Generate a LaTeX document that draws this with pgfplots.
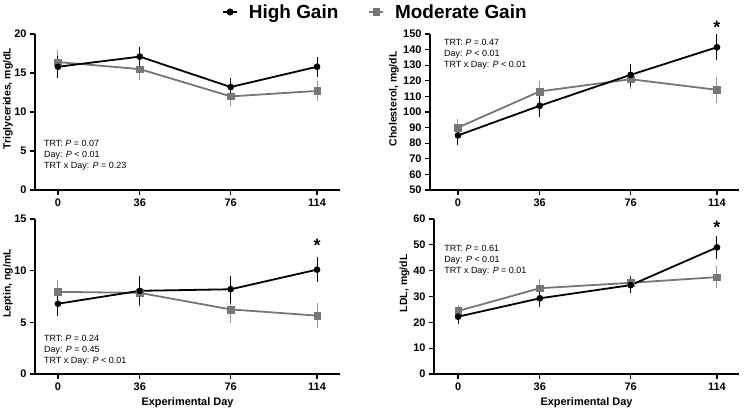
\documentclass[border=0pt]{standalone}
\usepackage{pgfplots}
\pgfplotsset{compat=1.18}
\usepackage{fontspec}
\setmainfont{Liberation Sans}

\definecolor{mgc}{RGB}{118,118,118}
\definecolor{mgerr}{RGB}{150,150,150}

\pgfplotsset{
  panel/.style={
    scale only axis, width=305bp, height=156bp,
    axis x line=bottom, axis y line=left,
    axis line style={-, line width=1.6bp, black},
    tick align=outside, major tick length=5bp,
    tick style={line width=1.3bp, black},
    xtick={0,36,76,114}, xmin=-10.1, xmax=124.1,
    ticklabel style={font=\bfseries\fontsize{11}{12}\selectfont},
    /pgf/number format/assume math mode=true,
    xlabel style={font=\bfseries\fontsize{11}{13}\selectfont},
    clip=false,
  },
  ylab/.style={ylabel style={font=\bfseries\fontsize{10.5}{12}\selectfont,
    at={(axis description cs:#1,0.585)}, anchor=south, inner sep=0pt}},
  hg/.style={black, line width=1.8bp, mark=*, mark size=3bp,
    mark options={solid, fill=black, line width=0.6bp},
    error bars/.cd, y dir=both, y explicit,
    error bar style={line width=1bp, black},
    error mark options={line width=1bp, mark size=3bp, black}},
  mg/.style={mgc, line width=1.8bp, mark=square*, mark size=3.3bp,
    mark options={solid, fill=mgc, draw=mgc, line width=0.4bp},
    error bars/.cd, y dir=both, y explicit,
    error bar style={line width=1bp, mgerr},
    error mark options={line width=1bp, mark size=3bp, mgerr}},
}
\tikzset{
  stats/.style={font=\fontsize{9}{10.8}\selectfont, align=left, anchor=north west, inner sep=0pt},
  star/.style={font=\bfseries\fontsize{18}{18}\selectfont, anchor=center},
}

% day  mean  sem
\pgfplotstableread{
day val err
0   15.8 1.0
36  17.1 0.9
76  13.2 0.75
114 15.8 0.9
}\tgHG
\pgfplotstableread{
day val err
0   16.4 1.1
36  15.5 1.0
76  12.0 0.8
114 12.7 0.9
}\tgMG
\pgfplotstableread{
day val err
0   85.0 4.0
36  104.0 5.0
76  123.8 5.0
114 141.5 6.5
}\chHG
\pgfplotstableread{
day val err
0   90.0 3.5
36  113.2 5.0
76  121.0 4.5
114 114.2 6.5
}\chMG
\pgfplotstableread{
day val err
0   6.8 0.9
36  8.05 1.1
76  8.2 1.0
114 10.1 0.9
}\lpHG
\pgfplotstableread{
day val err
0   7.95 0.85
36  7.85 1.05
76  6.25 1.0
114 5.65 0.95
}\lpMG
\pgfplotstableread{
day val err
0   22.2 1.5
36  29.3 2.2
76  34.4 2.0
114 49.0 3.2
}\ldlHG
\pgfplotstableread{
day val err
0   24.4 1.1
36  33.2 2.3
76  35.3 2.0
114 37.5 3.2
}\ldlMG

\begin{document}
\begin{tikzpicture}
\useasboundingbox (0,0) rectangle (744bp,411bp);

% Triglycerides
\begin{axis}[panel, at={(35bp,221bp)}, anchor=south west,
  ymin=0, ymax=20, ytick={0,5,10,15,20},
  ylabel={Triglycerides, mg/dL}, ylab=-0.072,
  legend style={at={(axis description cs:1.116,1.141)}, anchor=center,
    draw=none, fill=none, font=\bfseries\fontsize{19}{22}\selectfont,
    /tikz/every odd column/.append style={column sep=9bp},
    /tikz/every even column/.append style={column sep=28bp}},
  legend columns=2,
  legend image code/.code={\draw[mark repeat=2,mark phase=2,#1]
    plot coordinates {(0bp,0bp)(7bp,0bp)(14bp,0bp)};}]
\addlegendimage{black, line width=1.8bp, mark=*, mark size=2.6bp, mark options={fill=black}}
\addlegendentry{High Gain}
\addlegendimage{mgc, line width=1.8bp, mark=square*, mark size=2.8bp, mark options={fill=mgc}}
\addlegendentry{Moderate Gain}
\addplot[forget plot, mg] table[x=day, y=val, y error=err] {\tgMG};
\addplot[forget plot, hg] table[x=day, y=val, y error=err] {\tgHG};
\node[stats] at (axis description cs:0.0295,0.32)
  {TRT: \textit{P} = 0.07\\Day: \textit{P} < 0.01\\TRT x Day: \textit{P} = 0.23};
\end{axis}

% Cholesterol
\begin{axis}[panel, at={(430bp,221bp)}, anchor=south west, width=309bp,
  xmin=-12.3, xmax=123.7,
  ymin=50, ymax=150, ytick={50,60,...,150},
  ylabel={Cholesterol, mg/dL}, ylab=-0.1]
\addplot[mg] table[x=day, y=val, y error=err] {\chMG};
\addplot[hg] table[x=day, y=val, y error=err] {\chHG};
\node[stats] at (axis description cs:0.045,0.965)
  {TRT: \textit{P} = 0.47\\Day: \textit{P} < 0.01\\TRT x Day: \textit{P} < 0.01};
\node[star] at (axis cs:114,154) {*};
\end{axis}

% Leptin
\begin{axis}[panel, at={(35bp,37bp)}, anchor=south west, height=155bp,
  ymin=0, ymax=15, ytick={0,5,10,15},
  ylabel={Leptin, ng/mL}, ylab=-0.072, xlabel={Experimental Day}]
\addplot[mg] table[x=day, y=val, y error=err] {\lpMG};
\addplot[hg] table[x=day, y=val, y error=err] {\lpHG};
\node[stats] at (axis description cs:0.0295,0.25)
  {TRT: \textit{P} = 0.24\\Day: \textit{P} = 0.45\\TRT x Day: \textit{P} < 0.01};
\node[star] at (axis cs:114,12.5) {*};
\end{axis}

% LDL
\begin{axis}[panel, at={(434bp,37bp)}, anchor=south west, height=155bp,
  xmin=-10.6, xmax=123.7,
  ymin=0, ymax=60, ytick={0,10,...,60},
  ylabel={LDL, mg/dL}, ylab=-0.08, xlabel={Experimental Day}]
\addplot[mg] table[x=day, y=val, y error=err] {\ldlMG};
\addplot[hg] table[x=day, y=val, y error=err] {\ldlHG};
\node[stats] at (axis description cs:0.033,0.83)
  {TRT: \textit{P} = 0.61\\Day: \textit{P} < 0.01\\TRT x Day: \textit{P} = 0.01};
\node[star] at (axis cs:114,56.8) {*};
\end{axis}
\end{tikzpicture}
\end{document}
